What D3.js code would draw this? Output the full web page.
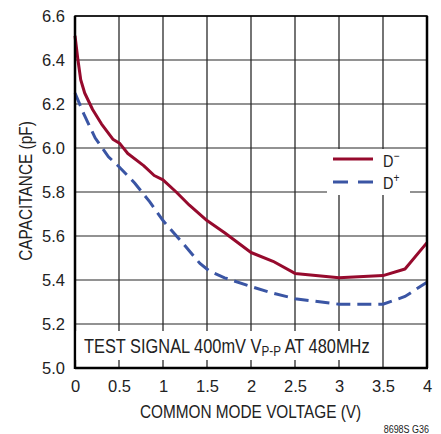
<!DOCTYPE html>
<html><head><meta charset="utf-8">
<script src="https://cdn.jsdelivr.net/npm/d3@7"></script>
<style>
body{margin:0;background:#fff;}
svg{display:block;font-family:"Liberation Sans",Arial,Helvetica,sans-serif;}
</style></head>
<body><svg id="c" width="441" height="434"></svg>
<script>
const dMinusX = [0, 0.03, 0.065, 0.11, 0.2, 0.3, 0.43, 0.51, 0.6, 0.78, 0.9, 1.0, 1.15, 1.3, 1.5, 1.7, 2.0, 2.25, 2.5, 3.0, 3.5, 3.75, 4.0];
const dMinusY = [6.51, 6.41, 6.31, 6.25, 6.175, 6.11, 6.04, 6.02, 5.975, 5.92, 5.875, 5.855, 5.80, 5.74, 5.67, 5.615, 5.525, 5.485, 5.43, 5.41, 5.42, 5.45, 5.57];
const dPlusX = [0, 0.1, 0.23, 0.38, 0.5, 0.68, 0.85, 1.0, 1.23, 1.42, 1.53, 1.7, 2.0, 2.25, 2.5, 3.0, 3.5, 3.75, 4.0];
const dPlusY = [6.25, 6.155, 6.045, 5.96, 5.915, 5.84, 5.755, 5.67, 5.565, 5.475, 5.44, 5.41, 5.37, 5.34, 5.315, 5.29, 5.29, 5.325, 5.39];
const xTicks = [0, 0.5, 1, 1.5, 2, 2.5, 3, 3.5, 4];
const xTickLabels = ["0", "0.5", "1", "1.5", "2", "2.5", "3", "3.5", "4"];
const yTicks = [5.0, 5.2, 5.4, 5.6, 5.8, 6.0, 6.2, 6.4, 6.6];
const yTickLabels = ["5.0", "5.2", "5.4", "5.6", "5.8", "6.0", "6.2", "6.4", "6.6"];

const L = 75, R = 427, T = 16, B = 368;
const svg = d3.select("#c");
const x = d3.scaleLinear().domain([0, 4]).range([L, R]);
const y = d3.scaleLinear().domain([5.0, 6.6]).range([B, T]);
const txtC = "#222";

// condensed text helper (horizontal scale)
function cText(px, py, size, k, anchor, rot) {
  return svg.append("text")
    .attr("transform", `translate(${px},${py})` + (rot ? ` rotate(${rot})` : "") + ` scale(${k},1)`)
    .attr("text-anchor", anchor).attr("font-size", size).attr("fill", txtC);
}

// grid
svg.append("g").selectAll("line").data(yTicks).join("line")
  .attr("x1", L).attr("x2", R).attr("y1", d => y(d)).attr("y2", d => y(d))
  .attr("stroke", "#6e6e6e").attr("stroke-width", 1.5);
svg.append("g").selectAll("line").data(xTicks).join("line")
  .attr("y1", T).attr("y2", B).attr("x1", d => x(d)).attr("x2", d => x(d))
  .attr("stroke", "#2a2a2a").attr("stroke-width", 1.3);

// curves
const line = d3.line().x(d => x(d[0])).y(d => y(d[1]));
const redC = "#960a2d", blueC = "#3a55a4";
svg.append("path").datum(d3.zip(dMinusX, dMinusY)).attr("d", line)
  .attr("fill", "none").attr("stroke", redC).attr("stroke-width", 3).attr("stroke-linejoin", "round");
svg.append("path").datum(d3.zip(dPlusX, dPlusY)).attr("d", line)
  .attr("fill", "none").attr("stroke", blueC).attr("stroke-width", 3).attr("stroke-dasharray", "14,7");

// frame
svg.append("rect").attr("x", L).attr("y", T).attr("width", R - L).attr("height", B - T)
  .attr("fill", "none").attr("stroke", "#000").attr("stroke-width", 1.5);
svg.append("line").attr("x1", L).attr("x2", L).attr("y1", T).attr("y2", B + 1).attr("stroke", "#000").attr("stroke-width", 2.5);
svg.append("line").attr("x1", L).attr("x2", R + 1).attr("y1", B).attr("y2", B).attr("stroke", "#000").attr("stroke-width", 2.5);
svg.append("line").attr("x1", R).attr("x2", R).attr("y1", T).attr("y2", B).attr("stroke", "#000").attr("stroke-width", 2.5);

// axes tick labels
const xAxis = d3.axisBottom(x).tickValues(xTicks).tickFormat((d, i) => xTickLabels[i]).tickSize(0).tickPadding(12);
const gx = svg.append("g").attr("transform", `translate(0,${B})`).call(xAxis);
gx.select(".domain").remove();
gx.selectAll("text").attr("font-size", 16.5).attr("fill", txtC).attr("font-family", null);
const yAxis = d3.axisLeft(y).tickValues(yTicks).tickFormat((d, i) => yTickLabels[i]).tickSize(0).tickPadding(10);
const gy = svg.append("g").attr("transform", `translate(${L},0)`).call(yAxis);
gy.select(".domain").remove();
gy.selectAll("text").attr("font-size", 16.5).attr("fill", txtC).attr("font-family", null);

// titles
cText(250.5, 418, 18.5, 0.83, "middle").text("COMMON MODE VOLTAGE (V)");
cText(32, 191, 17.7, 0.87, "middle", -90).text("CAPACITANCE (pF)");
cText(429, 433, 11.5, 0.78, "end").text("8698S G36");

// legend
svg.append("rect").attr("x", 327).attr("y", 149).attr("width", 83).attr("height", 46).attr("fill", "#fff");
svg.append("line").attr("x1", 333).attr("x2", 373).attr("y1", 159).attr("y2", 159).attr("stroke", redC).attr("stroke-width", 3);
svg.append("line").attr("x1", 333).attr("x2", 373).attr("y1", 182).attr("y2", 182).attr("stroke", blueC).attr("stroke-width", 3).attr("stroke-dasharray", "15,10");
const lt1 = cText(383, 167, 17, 0.85, "start");
lt1.append("tspan").text("D");
lt1.append("tspan").attr("dy", -7).attr("font-size", 12).text("\u2212");
const lt2 = cText(383, 189, 17, 0.85, "start");
lt2.append("tspan").text("D");
lt2.append("tspan").attr("dy", -7).attr("font-size", 12).text("+");

// annotation
svg.append("rect").attr("x", L + 1.5).attr("y", 331).attr("width", 298).attr("height", 29).attr("fill", "#fff");
const an = cText(84, 353, 21, 0.78, "start");
an.append("tspan").text("TEST SIGNAL 400mV V");
an.append("tspan").attr("dy", 3).attr("font-size", 15).text("P-P");
an.append("tspan").attr("dy", -3).text(" AT 480MHz");
</script></body></html>
